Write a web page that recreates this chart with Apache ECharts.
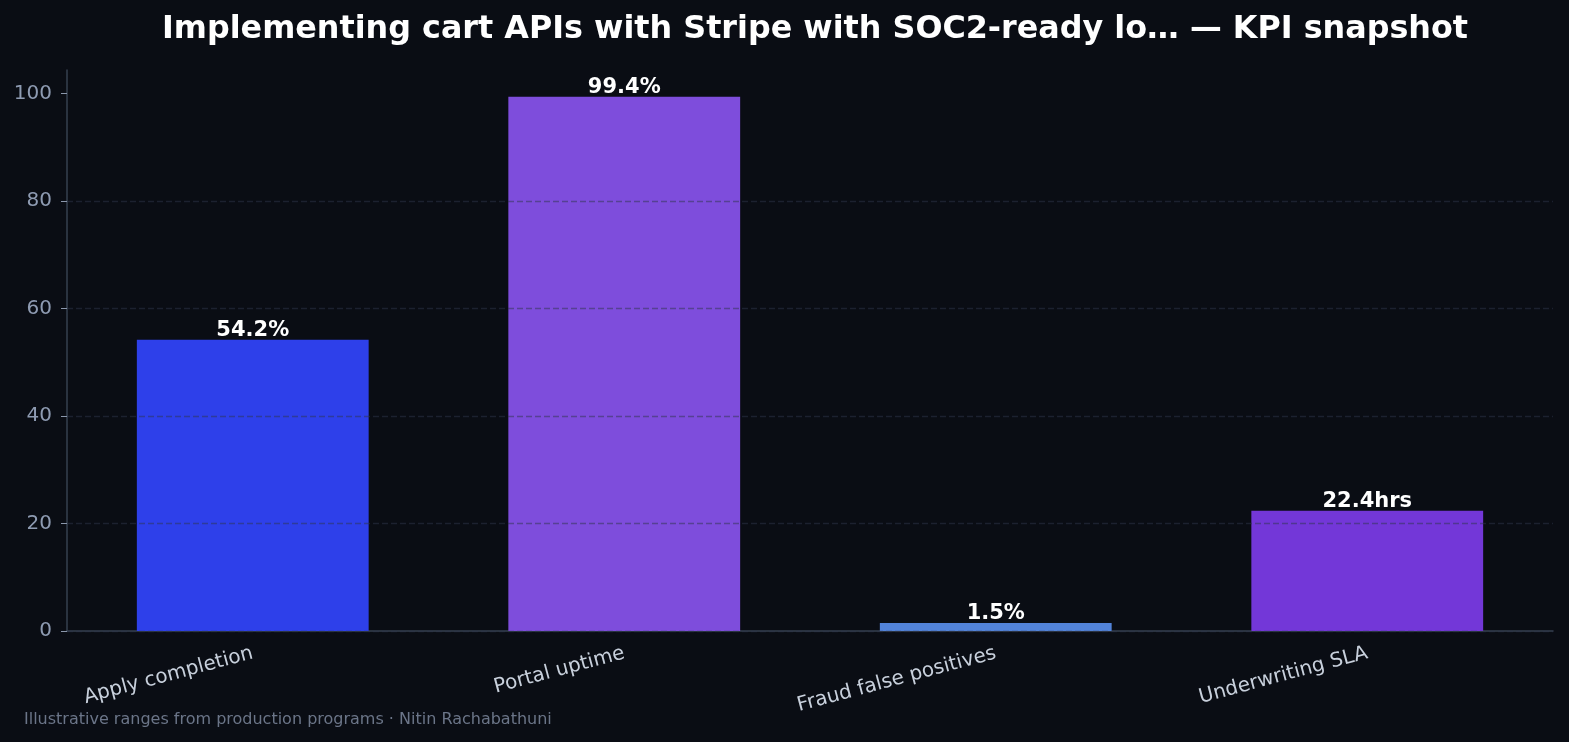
<!DOCTYPE html>
<html>
<head>
<meta charset="utf-8">
<script src="https://cdn.jsdelivr.net/npm/echarts@6/dist/echarts.min.js"></script>
<style>
  html, body { margin: 0; padding: 0; background: #0a0d14; }
  #chart-wrapper { width: 1569px; height: 742px; }
</style>
</head>
<body>
<div id="chart-wrapper"></div>
<script>
const categories = ["Apply completion", "Portal uptime", "Fraud false positives", "Underwriting SLA"];
const values = [54.2, 99.4, 1.5, 22.4];
const valueLabels = ["54.2%", "99.4%", "1.5%", "22.4hrs"];
const barColors = ["#2e40ea", "#7e4ddc", "#5283d9", "#7337d8"];
const yTicks = [0, 20, 40, 60, 80, 100];

const titleText = "Implementing cart APIs with Stripe with SOC2-ready lo\u2026 \u2014 KPI snapshot";
const footerText = "Illustrative ranges from production programs \u00b7 Nitin Rachabathuni";

const chartDom = document.getElementById("chart-wrapper");
const chart = echarts.init(chartDom, null, { renderer: "canvas" });

const font = "DejaVu Sans";

const option = {
  backgroundColor: "#0a0d14",
  animation: false,
  title: {
    text: titleText,
    left: 810,
    textAlign: "center",
    top: 9,
    textStyle: { color: "#ffffff", fontSize: 31.8, fontWeight: "bold", fontFamily: font },
  },
  graphic: [
    {
      type: "text",
      left: 24,
      top: 712,
      style: { text: footerText, fill: "#6b7588", fontSize: 16, fontFamily: font },
    },
  ],
  grid: { left: 67, right: 16, top: 70, bottom: 111 },
  xAxis: {
    type: "category",
    data: categories,
    axisLine: { lineStyle: { color: "#36404f", width: 1.5 } },
    axisTick: { alignWithLabel: true, length: 5, lineStyle: { color: "#000000" } },
    axisLabel: {
      rotate: 15,
      color: "#c8d0dc",
      fontSize: 20,
      fontFamily: font,
      margin: 22,
    },
  },
  yAxis: {
    type: "value",
    min: 0,
    max: 104.4,
    interval: 20,
    z: 5,
    axisLine: { show: true, lineStyle: { color: "#36404f", width: 1.5 } },
    axisTick: { show: true, length: 6, lineStyle: { color: "#8b97ab" }, customValues: yTicks },
    axisLabel: { color: "#8e9bb2", fontSize: 20, fontFamily: font, margin: 15, customValues: yTicks },
    splitLine: {
      show: true,
      showMaxLine: false,
      lineStyle: { color: "rgba(46,53,73,0.5)", type: [6, 3], width: 1.3 },
    },
  },
  series: [
    {
      type: "bar",
      barWidth: "62.4%",
      z: 2,
      data: values.map((v, i) => ({
        value: v,
        itemStyle: { color: barColors[i] },
        label: { formatter: valueLabels[i] },
      })),
      label: {
        show: true,
        position: "top",
        distance: -1,
        color: "#ffffff",
        fontSize: 21,
        fontWeight: "bold",
        fontFamily: font,
      },
    },
  ],
};

chart.setOption(option);
</script>
</body>
</html>
